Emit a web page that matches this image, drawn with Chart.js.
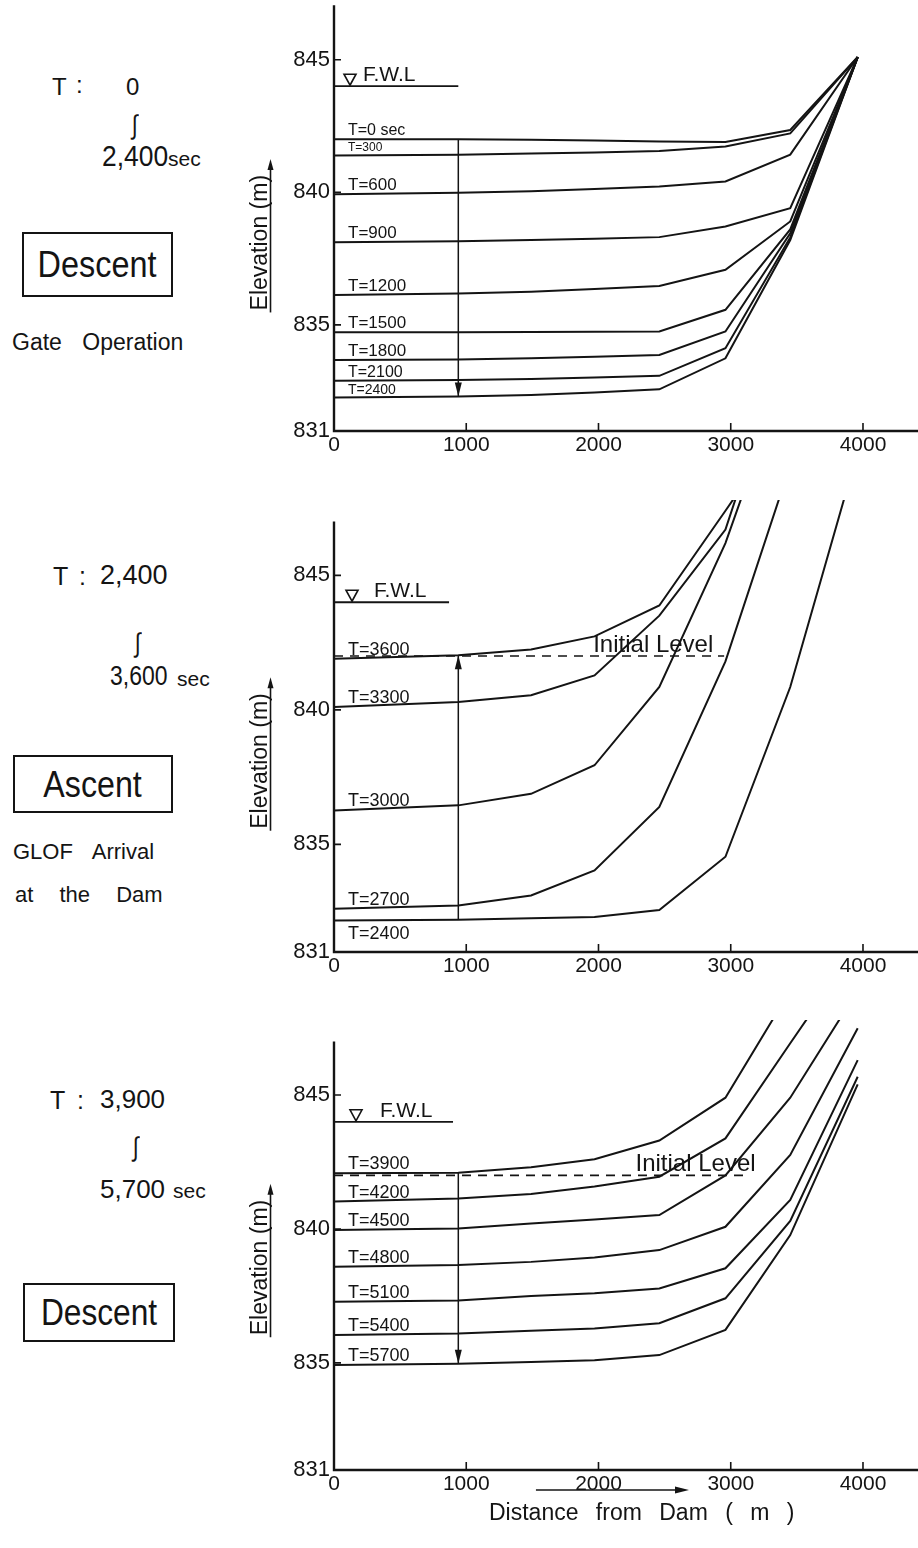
<!DOCTYPE html>
<html>
<head>
<meta charset="utf-8">
<script src="https://cdn.jsdelivr.net/npm/chart.js@4.4.1/dist/chart.umd.min.js"></script>
<style>
  html, body { margin: 0; padding: 0; background: #fff; }
  body { position: relative; width: 918px; height: 1548px; overflow: hidden; color: #141414;
         font-family: "Liberation Sans", Arial, sans-serif; }
  canvas { position: absolute; left: 0; }
  .t { position: absolute; white-space: pre; line-height: 1; }
  .n { transform-origin: 0 0; }
  .sq { transform-origin: 50% 50%; transform: scaleX(.8); }
  .box { position: absolute; box-sizing: border-box; border: 2px solid #141414;
         display: flex; align-items: center; justify-content: center; }
  .box span { display: inline-block; line-height: 1; }
</style>
</head>
<body>

<!-- side notes, panel A -->
<div class="t" style="left:52px;top:74.7px;font-size:24px">T</div>
<div class="t" style="left:76px;top:72.7px;font-size:24px">:</div>
<div class="t" style="left:126px;top:74.7px;font-size:24px">0</div>
<div class="t sq" style="left:131px;top:112px;font-size:27px">∫</div>
<div class="t n" style="left:102px;top:140.6px;font-size:30px;transform:scaleX(.88)">2,400</div>
<div class="t" style="left:168px;top:148.2px;font-size:21px">sec</div>
<div class="box" style="left:22px;top:232px;width:151px;height:65px"><span style="font-size:36px;transform:scaleX(.9)">Descent</span></div>
<div class="t" style="left:12px;top:331px;font-size:23px;word-spacing:14px">Gate Operation</div>

<!-- side notes, panel B -->
<div class="t" style="left:53px;top:563.8px;font-size:25px">T</div>
<div class="t" style="left:79px;top:563.8px;font-size:25px">:</div>
<div class="t" style="left:100px;top:562.1px;font-size:27px">2,400</div>
<div class="t sq" style="left:134px;top:630px;font-size:27px">∫</div>
<div class="t n" style="left:110px;top:662.3px;font-size:28px;transform:scaleX(.82)">3,600</div>
<div class="t" style="left:177px;top:668.2px;font-size:21px">sec</div>
<div class="box" style="left:13px;top:755px;width:160px;height:58px"><span style="font-size:37px;transform:scaleX(.87)">Ascent</span></div>
<div class="t" style="left:13px;top:841.4px;font-size:22px;word-spacing:14px">GLOF Arrival</div>
<div class="t" style="left:15px;top:884.4px;font-size:22px;word-spacing:20px">at the Dam</div>

<!-- side notes, panel C -->
<div class="t" style="left:50px;top:1087.8px;font-size:25px">T</div>
<div class="t" style="left:77px;top:1087.8px;font-size:25px">:</div>
<div class="t" style="left:100px;top:1086px;font-size:26px">3,900</div>
<div class="t sq" style="left:132px;top:1134px;font-size:27px">∫</div>
<div class="t" style="left:100px;top:1176px;font-size:26px">5,700</div>
<div class="t" style="left:173px;top:1180.2px;font-size:21px">sec</div>
<div class="box" style="left:23px;top:1283px;width:152px;height:59px"><span style="font-size:36px;transform:scaleX(.88)">Descent</span></div>

<canvas id="panelA" width="918" height="511" style="top:-20px"></canvas>
<canvas id="panelB" width="918" height="536" style="top:476px"></canvas>
<canvas id="panelC" width="918" height="552" style="top:996px"></canvas>

<div class="t" style="left:489px;top:1500.5px;font-size:23px;word-spacing:11px">Distance from Dam ( m )</div>

<script>
// ---- cross-section stations and axes ----
const distance = [0, 940, 1490, 1970, 2460, 2960, 3450, 3960];   // m from dam
const distanceTicks = [0, 1000, 2000, 3000, 4000];
const elevationTicks = [831, 835, 840, 845];
const fullWaterLevel = 844.0;
const initialLevel = 842.0;

// ---- A: descent by gate operation, T = 0 … 2,400 s ----
const gateTags = ['T=0 sec', 'T=300', 'T=600', 'T=900', 'T=1200', 'T=1500', 'T=1800', 'T=2100', 'T=2400'];
const a0    = [842.00, 842.00, 841.98, 841.95, 841.92, 841.90, 842.35, 845.10];
const a300  = [841.39, 841.42, 841.46, 841.50, 841.56, 841.73, 842.22, 845.10];
const a600  = [839.93, 839.98, 840.04, 840.12, 840.22, 840.41, 841.42, 845.10];
const a900  = [838.12, 838.15, 838.20, 838.25, 838.31, 838.71, 839.40, 845.10];
const a1200 = [836.13, 836.18, 836.25, 836.35, 836.47, 837.08, 838.90, 845.10];
const a1500 = [834.72, 834.72, 834.73, 834.74, 834.75, 835.57, 838.60, 845.10];
const a1800 = [833.68, 833.70, 833.74, 833.80, 833.87, 834.75, 838.45, 845.10];
const a2100 = [832.89, 832.92, 832.96, 833.02, 833.08, 834.12, 838.30, 845.10];
const a2400 = [832.26, 832.30, 832.36, 832.45, 832.57, 833.74, 838.20, 845.10];

// ---- B: ascent on GLOF arrival, T = 2,400 … 3,600 s ----
const glofTags = ['T=2400', 'T=2700', 'T=3000', 'T=3300', 'T=3600'];
const b2400 = [832.17, 832.20, 832.25, 832.30, 832.56, 834.54, 840.85, 849.60];
const b2700 = [832.61, 832.73, 833.10, 834.03, 836.39, 841.80, 849.10, 856.00];
const b3000 = [836.26, 836.45, 836.88, 837.94, 840.85, 846.20, 853.00, 860.00];
const b3300 = [840.11, 840.29, 840.54, 841.28, 843.50, 846.70, 854.00, 858.00];
const b3600 = [841.90, 842.03, 842.24, 842.73, 843.88, 847.40, 850.90, 854.00];

// ---- C: descent after the peak, T = 3,900 … 5,700 s ----
const recessTags = ['T=3900', 'T=4200', 'T=4500', 'T=4800', 'T=5100', 'T=5400', 'T=5700'];
const c3900 = [842.08, 842.10, 842.30, 842.60, 843.30, 844.90, 848.90, 853.00];
const c4200 = [841.02, 841.14, 841.30, 841.58, 841.95, 843.38, 846.93, 850.60];
const c4500 = [839.96, 840.02, 840.20, 840.35, 840.52, 842.00, 844.90, 848.90];
const c4800 = [838.59, 838.65, 838.77, 838.93, 839.21, 840.08, 842.76, 847.49];
const c5100 = [837.28, 837.33, 837.50, 837.60, 837.78, 838.53, 841.08, 846.30];
const c5400 = [836.04, 836.10, 836.20, 836.28, 836.48, 837.41, 840.30, 845.68];
const c5700 = [834.92, 834.97, 835.03, 835.10, 835.29, 836.23, 839.77, 845.40];

const INK = '#141414';
const FONT = '"Liberation Sans", Arial, sans-serif';
const STATION_X = distance[1];   // station where the level change is marked

const toPoints = vals => distance.map((d, i) => ({ x: d, y: vals[i] }));

function profiles(list, tags, sizes, below) {
  return list.map((vals, i) => ({
    data: toPoints(vals), borderColor: INK, borderWidth: 2, pointRadius: 0, tension: 0,
    tag: tags[i], tagSize: sizes[i], tagBelow: below.includes(i)
  }));
}

function flatLine(level, end, extra) {
  return Object.assign({
    data: [{ x: 0, y: level }, { x: end, y: level }],
    borderColor: INK, borderWidth: 1.8, pointRadius: 0
  }, extra || {});
}

function levelArrow(from, to) {
  return {
    data: [{ x: STATION_X, y: from }, { x: STATION_X, y: to }],
    borderColor: INK, borderWidth: 1.5, pointRadius: 0, arrowHead: true
  };
}

// axes frame, inward ticks, tags and notes
const decor = {
  id: 'decor',
  afterDatasetsDraw(chart, _args, o) {
    const { ctx, chartArea: ca, scales: { x, y } } = chart;
    const x0 = x.getPixelForValue(0);
    const yb = y.getPixelForValue(elevationTicks[0]);
    ctx.save();
    ctx.strokeStyle = INK; ctx.fillStyle = INK;

    ctx.lineWidth = 2.4;
    ctx.beginPath();
    ctx.moveTo(x0, y.getPixelForValue(o.axisTop));
    ctx.lineTo(x0, yb);
    ctx.lineTo(ca.right, yb);
    ctx.stroke();

    ctx.lineWidth = 1.6;
    ctx.beginPath();
    elevationTicks.slice(1).forEach(v => {
      const py = y.getPixelForValue(v);
      ctx.moveTo(x0, py); ctx.lineTo(x0 + 7, py);
    });
    distanceTicks.slice(1).forEach(v => {
      const px = x.getPixelForValue(v);
      ctx.moveTo(px, yb); ctx.lineTo(px, yb - 8);
    });
    ctx.stroke();

    chart.data.datasets.forEach((ds, i) => {
      if (!ds.arrowHead) return;
      const pts = chart.getDatasetMeta(i).data;
      const a = pts[pts.length - 2], b = pts[pts.length - 1];
      ctx.save();
      ctx.translate(b.x, b.y);
      ctx.rotate(Math.atan2(b.y - a.y, b.x - a.x));
      ctx.beginPath();
      ctx.moveTo(0, 0); ctx.lineTo(-14, -3.5); ctx.lineTo(-14, 3.5); ctx.closePath();
      ctx.fill();
      ctx.restore();
    });

    ctx.textAlign = 'left'; ctx.textBaseline = 'alphabetic';
    chart.data.datasets.forEach(ds => {
      if (!ds.tag) return;
      ctx.font = ds.tagSize + 'px ' + FONT;
      const py = y.getPixelForValue(ds.data[0].y);
      ctx.fillText(ds.tag, x0 + 14, ds.tagBelow ? py + 18 : py - 4);
    });

    const fy = y.getPixelForValue(fullWaterLevel);
    const tx = x0 + o.fwlMark;
    ctx.lineWidth = 1.6;
    ctx.beginPath();
    ctx.moveTo(tx, fy - 1); ctx.lineTo(tx - 6, fy - 12); ctx.lineTo(tx + 6, fy - 12); ctx.closePath();
    ctx.stroke();
    ctx.font = '21px ' + FONT;
    ctx.fillText('F.W.L', x0 + o.fwlText, fy - 5);

    if (o.noteAt != null) {
      ctx.font = '24px ' + FONT;
      ctx.fillText('Initial Level', x.getPixelForValue(o.noteAt), y.getPixelForValue(initialLevel) - 4);
    }

    const title = 'Elevation (m)';
    ctx.save();
    ctx.translate(259, y.getPixelForValue(o.titleAt));
    ctx.rotate(-Math.PI / 2);
    ctx.font = '23px ' + FONT;
    ctx.textAlign = 'center';
    ctx.fillText(title, 0, 8);
    const w = ctx.measureText(title).width;
    ctx.lineWidth = 1.6;
    ctx.beginPath(); ctx.moveTo(-w / 2 - 2, 11.5); ctx.lineTo(w / 2 + 8, 11.5); ctx.stroke();
    ctx.beginPath();
    ctx.moveTo(w / 2 + 16, 11.5); ctx.lineTo(w / 2 + 5, 8.5); ctx.lineTo(w / 2 + 5, 14.5); ctx.closePath();
    ctx.fill();
    ctx.restore();

    if (o.distanceArrow) {
      const [d1, d2] = o.distanceArrow;
      const ay = yb + 20, ax1 = x.getPixelForValue(d1), ax2 = x.getPixelForValue(d2);
      ctx.lineWidth = 1.6;
      ctx.beginPath(); ctx.moveTo(ax1, ay); ctx.lineTo(ax2 - 6, ay); ctx.stroke();
      ctx.beginPath(); ctx.moveTo(ax2 + 4, ay); ctx.lineTo(ax2 - 10, ay - 3.5); ctx.lineTo(ax2 - 10, ay + 3.5); ctx.closePath();
      ctx.fill();
    }
    ctx.restore();
  }
};

function makePanel(id, cfg) {
  return new Chart(document.getElementById(id), {
    type: 'line',
    data: { datasets: cfg.datasets },
    plugins: [decor],
    options: {
      responsive: false,
      animation: false,
      events: [],
      layout: { padding: { top: 24, right: 0, bottom: 0, left: 0 } },
      plugins: {
        legend: { display: false },
        tooltip: { enabled: false },
        decor: cfg.decor
      },
      scales: {
        x: {
          type: 'linear', min: 0, max: 4416,
          afterBuildTicks: s => { s.ticks = distanceTicks.map(v => ({ value: v })); },
          afterFit: s => { s.height = cfg.xAxisHeight; },
          grid: { display: false, drawTicks: false },
          border: { display: false },
          ticks: { color: INK, font: { family: FONT, size: 21 }, padding: 2,
                   maxRotation: 0, autoSkip: false, callback: v => String(v) }
        },
        y: {
          type: 'linear', min: 831, max: cfg.yMax,
          afterBuildTicks: s => { s.ticks = elevationTicks.map(v => ({ value: v })); },
          afterFit: s => { s.width = 334; },
          grid: { display: false, drawTicks: false },
          border: { display: false },
          ticks: { color: INK, font: { family: FONT, size: 22 }, padding: 4,
                   autoSkip: false, callback: v => String(v) }
        }
      }
    }
  });
}

// panel A
makePanel('panelA', {
  yMax: 847.1, xAxisHeight: 60,
  decor: { axisTop: 847.05, fwlMark: 16, fwlText: 29, noteAt: null, titleAt: 838.1 },
  datasets: [
    flatLine(fullWaterLevel, 940),
    ...profiles([a0, a300, a600, a900, a1200, a1500, a1800, a2100, a2400], gateTags,
                [16, 12, 17, 17, 17, 17, 17, 16, 14], []),
    levelArrow(a0[1], a2400[1])
  ]
});

// panel B
makePanel('panelB', {
  yMax: 847.8, xAxisHeight: 60,
  decor: { axisTop: 847.0, fwlMark: 18, fwlText: 40, noteAt: 1960, titleAt: 838.1 },
  datasets: [
    flatLine(fullWaterLevel, 870),
    flatLine(initialLevel, 2950, { borderDash: [9, 7], borderWidth: 1.6 }),
    ...profiles([b2400, b2700, b3000, b3300, b3600], glofTags, [18, 18, 18, 18, 18], [0]),
    levelArrow(b2400[1], b3600[1])
  ]
});

// panel C
makePanel('panelC', {
  yMax: 847.8, xAxisHeight: 78,
  decor: { axisTop: 847.0, fwlMark: 22, fwlText: 46, noteAt: 2280, titleAt: 838.56,
           distanceArrow: [1527, 2654] },
  datasets: [
    flatLine(fullWaterLevel, 900),
    flatLine(initialLevel, 3100, { borderDash: [9, 7], borderWidth: 1.6 }),
    ...profiles([c3900, c4200, c4500, c4800, c5100, c5400, c5700], recessTags,
                [18, 18, 18, 18, 18, 18, 18], []),
    levelArrow(c3900[1], c5700[1])
  ]
});
</script>
</body>
</html>
